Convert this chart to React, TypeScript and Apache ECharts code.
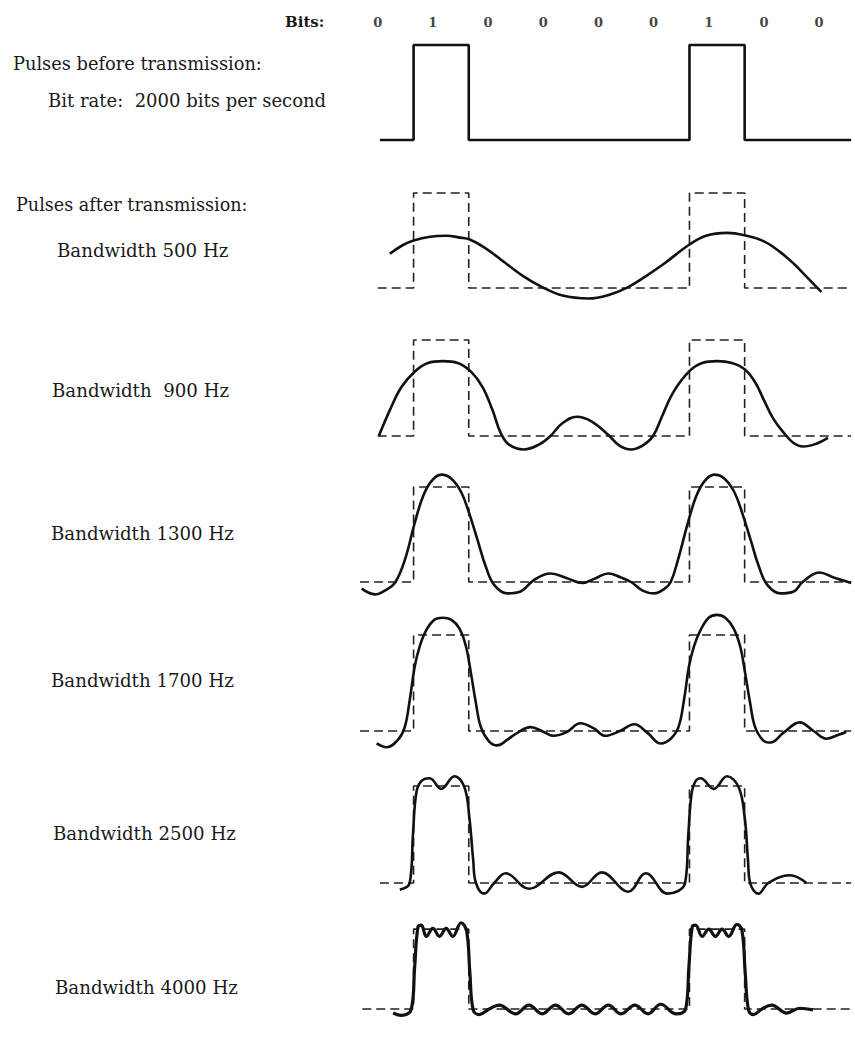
import React, { useEffect, useRef } from "react";
import * as echarts from "echarts";

// ---- data ----
const BITS = [0, 1, 0, 0, 0, 0, 1, 0, 0];
const BANDWIDTH_LABELS = [
  "Bandwidth 500 Hz",
  "Bandwidth  900 Hz",
  "Bandwidth 1300 Hz",
  "Bandwidth 1700 Hz",
  "Bandwidth 2500 Hz",
  "Bandwidth 4000 Hz",
];

// received waveforms, x in bit periods, y relative to pulse height (0 = baseline, 1 = pulse top)
const BW_500 = [
  [0.57, 0.36], [0.8, 0.45], [1.0, 0.5], [1.3, 0.54], [1.59, 0.55], [1.85, 0.53],
  [2.02, 0.51], [2.3, 0.42], [2.67, 0.26], [3.0, 0.12], [3.33, 0.01], [3.7, -0.08],
  [4.17, -0.11], [4.55, -0.07], [4.89, 0.01], [5.2, 0.12], [5.55, 0.26], [5.98, 0.45],
  [6.3, 0.55], [6.68, 0.58], [7.03, 0.55], [7.35, 0.49], [7.64, 0.38], [7.9, 0.25],
  [8.12, 0.12], [8.39, -0.04],
];
const BW_900 = [
  [0.37, 0.0], [0.57, 0.27], [0.78, 0.51], [1.02, 0.67], [1.26, 0.76], [1.53, 0.78],
  [1.8, 0.76], [2.04, 0.67], [2.25, 0.51], [2.43, 0.27], [2.58, 0.03], [2.73, -0.09],
  [3.0, -0.14], [3.27, -0.09], [3.48, 0.0], [3.69, 0.13], [3.96, 0.2], [4.23, 0.15],
  [4.53, 0.01], [4.73, -0.1], [4.94, -0.14], [5.15, -0.1], [5.34, 0.0], [5.5, 0.2],
  [5.7, 0.45], [5.99, 0.67], [6.23, 0.76], [6.5, 0.78], [6.77, 0.76], [7.01, 0.69],
  [7.2, 0.55], [7.36, 0.36], [7.53, 0.17], [7.7, 0.04], [7.88, -0.07], [8.06, -0.11],
  [8.3, -0.08], [8.51, -0.02],
];
const BW_1300 = [
  [0.06, -0.07], [0.3, -0.13], [0.48, -0.09], [0.66, -0.01], [0.84, 0.23], [1.02, 0.62],
  [1.17, 0.9], [1.32, 1.06], [1.5, 1.13], [1.68, 1.09], [1.86, 0.95], [2.01, 0.72],
  [2.16, 0.44], [2.31, 0.16], [2.46, -0.03], [2.7, -0.12], [2.94, -0.1], [3.18, 0.02],
  [3.48, 0.09], [3.78, 0.04], [4.06, -0.01], [4.3, 0.04], [4.53, 0.09], [4.75, 0.05],
  [4.94, 0.0], [5.15, -0.09], [5.36, -0.12], [5.55, -0.07], [5.66, 0.0], [5.79, 0.23],
  [5.97, 0.62], [6.12, 0.9], [6.27, 1.06], [6.45, 1.13], [6.63, 1.09], [6.81, 0.95],
  [6.96, 0.72], [7.11, 0.44], [7.26, 0.16], [7.41, -0.03], [7.65, -0.12], [7.89, -0.1],
  [8.05, 0.0], [8.36, 0.1], [8.6, 0.05], [8.93, -0.01],
];
const BW_1700 = [
  [0.33, -0.13], [0.51, -0.17], [0.72, -0.09], [0.84, 0.04], [0.93, 0.32], [1.02, 0.67],
  [1.11, 0.88], [1.23, 1.05], [1.38, 1.16], [1.53, 1.18], [1.68, 1.16], [1.83, 1.07],
  [1.95, 0.88], [2.04, 0.6], [2.13, 0.29], [2.22, 0.04], [2.37, -0.11], [2.52, -0.15],
  [2.7, -0.09], [2.88, -0.02], [3.12, 0.04], [3.36, -0.01], [3.54, -0.05], [3.78, -0.01],
  [4.02, 0.08], [4.26, 0.03], [4.47, -0.05], [4.74, 0.0], [5.0, 0.07], [5.24, -0.02],
  [5.48, -0.13], [5.66, -0.08], [5.8, 0.04], [5.9, 0.32], [5.99, 0.67], [6.08, 0.88],
  [6.2, 1.05], [6.35, 1.18], [6.5, 1.21], [6.65, 1.18], [6.8, 1.07], [6.92, 0.88],
  [7.01, 0.6], [7.1, 0.29], [7.19, 0.04], [7.34, -0.1], [7.47, -0.12], [7.7, -0.02],
  [8.0, 0.09], [8.25, 0.0], [8.48, -0.08], [8.7, -0.04], [8.84, -0.01],
];
const BW_2500 = [
  [0.75, -0.07], [0.93, 0.0], [0.99, 0.51], [1.05, 0.93], [1.14, 1.05], [1.29, 1.08],
  [1.5, 0.97], [1.74, 1.1], [1.92, 0.99], [2.01, 0.68], [2.08, 0.24], [2.13, 0.0],
  [2.28, -0.11], [2.46, 0.0], [2.67, 0.1], [3.09, -0.06], [3.63, 0.11], [4.05, -0.04],
  [4.41, 0.11], [4.89, -0.09], [5.21, 0.1], [5.6, -0.11], [5.92, 0.0], [5.98, 0.51],
  [6.04, 0.93], [6.11, 1.05], [6.2, 1.08], [6.44, 0.97], [6.68, 1.1], [6.89, 0.99],
  [7.0, 0.68], [7.06, 0.24], [7.1, 0.0], [7.25, -0.11], [7.43, 0.0], [7.82, 0.08],
  [8.12, 0.0],
];
const BW_4000 = [
  [0.63, -0.05], [0.78, -0.08], [0.96, 0.0], [1.02, 0.53], [1.08, 1.03], [1.14, 1.05],
  [1.23, 0.91], [1.35, 1.01], [1.47, 0.91], [1.59, 1.01], [1.71, 0.91], [1.86, 1.08],
  [1.96, 0.98], [2.02, 0.46], [2.08, -0.01], [2.19, -0.07], [2.37, 0.0], [2.55, 0.05],
  [2.85, -0.06], [3.09, 0.05], [3.33, -0.06], [3.57, 0.05], [3.81, -0.06], [4.05, 0.05],
  [4.29, -0.06], [4.53, 0.05], [4.76, -0.06], [5.01, 0.05], [5.25, -0.06], [5.48, 0.06],
  [5.75, -0.06], [5.93, 0.0], [5.99, 0.53], [6.05, 1.03], [6.11, 1.05], [6.23, 0.91],
  [6.35, 1.0], [6.47, 0.91], [6.59, 1.0], [6.71, 0.91], [6.86, 1.06], [6.95, 0.99],
  [7.01, 0.46], [7.07, -0.01], [7.16, -0.07], [7.31, 0.0], [7.49, 0.05], [7.76, -0.05],
  [8.0, 0.01], [8.24, -0.01],
];
const CURVES = [BW_500, BW_900, BW_1300, BW_1700, BW_2500, BW_4000];

// extent (in bit periods) of the drawn square waves
const TOP_START = 0.39;
const DASH_STARTS = [0.35, 0.35, 0.03, 0.03, 0.39, 0.07];
const WAVE_END = 8.93;

// ---- layout ----
const W = 855;
const H = 1041;
const X_LEFT = 358.4;
const X_UNIT = 55.6;
const X_MIN = 0;
const X_MAX = 9;
const Y_MIN = -0.4;
const Y_MAX = 1.4;
const TOP_BASE = 140;
const TOP_H = 95;
const PANEL_BASE = [288, 436, 582, 731, 883, 1033];
const PANEL_H = [95, 96, 95, 96, 97, 97];
const LABEL_POS = [
  [57, 250], [52, 390], [51, 533], [51, 680], [53, 833], [55, 987],
];
const BIT_LABEL_OFFSET = 0.35;
const BIT_LABEL_Y = 1.24;
const FONT = "'DejaVu Serif', 'Liberation Serif', serif";

function squareWave(start: number, end: number) {
  const pts: number[][] = [[start, BITS[0]]];
  for (let i = 1; i < BITS.length; i++) pts.push([i, BITS[i]]);
  pts.push([end, BITS[BITS.length - 1]]);
  return pts;
}

function gridFor(base: number, h: number) {
  return {
    left: X_LEFT,
    width: X_UNIT * (X_MAX - X_MIN),
    top: base - Y_MAX * h,
    height: (Y_MAX - Y_MIN) * h,
  };
}

function buildOption() {
  const grids: any[] = [gridFor(TOP_BASE, TOP_H)];
  PANEL_BASE.forEach((b, i) => grids.push(gridFor(b, PANEL_H[i])));
  const xAxes = grids.map((_, i) => ({
    type: "value", gridIndex: i, min: X_MIN, max: X_MAX, show: false,
  }));
  const yAxes = grids.map((_, i) => ({
    type: "value", gridIndex: i, min: Y_MIN, max: Y_MAX, show: false,
  }));
  const series: any[] = [
    {
      type: "line", xAxisIndex: 0, yAxisIndex: 0, step: "end", clip: false,
      data: squareWave(TOP_START, WAVE_END), showSymbol: false,
      lineStyle: { color: "#111", width: 2.6 },
    },
    {
      type: "scatter", xAxisIndex: 0, yAxisIndex: 0, clip: false, symbolSize: 0,
      data: BITS.map((b, i) => [i + BIT_LABEL_OFFSET, BIT_LABEL_Y, b]),
      label: {
        show: true, position: "inside", formatter: (p: any) => String(p.value[2]),
        color: "#111", fontFamily: FONT, fontWeight: "bold", fontSize: 13,
      },
    },
  ];
  CURVES.forEach((curve, i) => {
    const gi = i + 1;
    series.push({
      type: "line", xAxisIndex: gi, yAxisIndex: gi, step: "end", clip: false,
      data: squareWave(DASH_STARTS[i], WAVE_END), showSymbol: false,
      lineStyle: { color: "#222", width: 1.6, type: [9, 5] },
    });
    series.push({
      type: "line", xAxisIndex: gi, yAxisIndex: gi, smooth: 0.4, clip: false,
      data: curve, showSymbol: false,
      lineStyle: { color: "#111", width: i === 5 ? 3.2 : 2.6 },
    });
  });

  const texts: any[] = [
    { text: "Bits:", x: 285, y: 22, size: 15, bold: true },
    { text: "Pulses before transmission:", x: 13, y: 63, size: 17.8, bold: false },
    { text: "Bit rate:  2000 bits per second", x: 48, y: 100, size: 18, bold: false },
    { text: "Pulses after transmission:", x: 16, y: 205, size: 17.6, bold: false },
  ];
  BANDWIDTH_LABELS.forEach((t, i) =>
    texts.push({ text: t, x: LABEL_POS[i][0], y: LABEL_POS[i][1], size: 18.2, bold: false })
  );
  const graphic = texts.map((t) => ({
    type: "text", x: t.x, y: t.y,
    style: {
      text: t.text, fill: "#1a1a1a", font: `${t.bold ? "bold " : ""}${t.size}px ${FONT}`,
      textVerticalAlign: "middle", verticalAlign: "middle", textAlign: "left",
    },
  }));

  return {
    animation: false,
    backgroundColor: "#fff",
    grid: grids,
    xAxis: xAxes,
    yAxis: yAxes,
    series,
    graphic,
  };
}

export default function App() {
  const ref = useRef<HTMLDivElement>(null);
  useEffect(() => {
    if (!ref.current) return;
    const chart = echarts.init(ref.current, undefined, { renderer: "svg" });
    chart.setOption(buildOption() as any);
    return () => chart.dispose();
  }, []);
  return (
    <div
      ref={ref}
      style={{ position: "absolute", left: 0, top: 0, width: W, height: H }}
    />
  );
}
